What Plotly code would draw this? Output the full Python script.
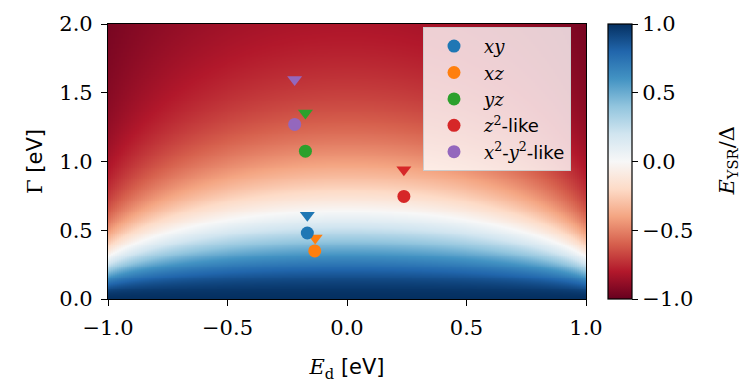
import numpy as np
import plotly.graph_objects as go

# ---- data ----
orbitals = ["xy", "xz", "yz", "z2", "x2y2"]
labels = [
    "<i>xy</i>",
    "<i>xz</i>",
    "<i>yz</i>",
    "<i>z</i><sup>2</sup><span style='font-family:DejaVu Sans'>-like</span>",
    "<i>x</i><sup>2</sup><span style='font-family:DejaVu Sans'>-</span><i>y</i><sup>2</sup><span style='font-family:DejaVu Sans'>-like</span>",
]
colors = ["#1f77b4", "#ff7f0e", "#2ca02c", "#d62728", "#9467bd"]
circle_ed = [-0.166, -0.135, -0.174, 0.238, -0.219]
circle_gamma = [0.48, 0.35, 1.075, 0.746, 1.27]
tri_ed = [-0.166, -0.133, -0.174, 0.238, -0.219]
tri_gamma = [0.61, 0.443, 1.352, 0.94, 1.597]

# background map: zero contour (Gamma0 at E_d=0 and at E_d=+-1)
gamma0_center = 0.64
gamma0_edge = 0.31
ed_grid = np.linspace(-1, 1, 241)
gamma_grid = np.linspace(0, 2, 301)

b2 = 1.0 / (1.0 - (gamma0_edge / gamma0_center) ** 2)
E, G = np.meshgrid(ed_grid, gamma_grid)
gamma0 = gamma0_center * np.sqrt(1 - E ** 2 / b2)
alpha2 = (G / gamma0) ** 2
z = (1 - alpha2) / (1 + alpha2)

rdbu = ['rgb(103,0,31)', 'rgb(178,24,43)', 'rgb(214,96,77)', 'rgb(244,165,130)',
        'rgb(253,219,199)', 'rgb(247,247,247)', 'rgb(209,229,240)', 'rgb(146,197,222)',
        'rgb(67,147,195)', 'rgb(33,102,172)', 'rgb(5,48,97)']
cscale = [[i / 10, c] for i, c in enumerate(rdbu)]

serif = "DejaVu Serif"
sans = "DejaVu Sans"

fig = go.Figure()
fig.add_trace(go.Heatmap(
    x=ed_grid, y=gamma_grid, z=z, zmin=-1, zmax=1, colorscale=cscale,
    showscale=True, hoverinfo="skip",
    colorbar=dict(
        x=1.046, xanchor="left", xpad=0, y=0.5, yanchor="middle", ypad=0,
        len=1, lenmode="fraction", thickness=24, thicknessmode="pixels",
        outlinewidth=1.2, outlinecolor="black",
        ticks="outside", ticklen=6, tickwidth=1.2, tickcolor="black",
        tickvals=[-1, -0.5, 0, 0.5, 1], tickformat=".1f",
        tickfont=dict(family=serif, size=21, color="black"),
    ),
))

for i in range(5):
    fig.add_trace(go.Scatter(
        x=[tri_ed[i]], y=[tri_gamma[i]], mode="markers",
        marker=dict(symbol="triangle-down", size=13, color=colors[i]),
        showlegend=False, hoverinfo="skip"))
for i in range(5):
    fig.add_trace(go.Scatter(
        x=[circle_ed[i]], y=[circle_gamma[i]], mode="markers", name=labels[i],
        marker=dict(symbol="circle", size=13, color=colors[i]),
        showlegend=True))

axis_common = dict(
    showgrid=False, zeroline=False, showline=True, linecolor="black", linewidth=1.2,
    mirror=True, ticks="outside", ticklen=6, tickwidth=1.2, tickcolor="black",
    dtick=0.5, tickformat=".1f", tickfont=dict(family=serif, size=21, color="black"),
    ticklabelstandoff=4,
)
fig.update_layout(
    width=742, height=387,
    margin=dict(l=108, r=156, t=14, b=87),
    paper_bgcolor="white", plot_bgcolor="white",
    xaxis=dict(range=[-1, 1], title=dict(
        text="<i>E</i><sub>d</sub> <span style='font-family:DejaVu Sans'>[eV]</span>",
        font=dict(family=serif, size=21, color="black"), standoff=20), **axis_common),
    yaxis=dict(range=[0, 2], title=dict(
        text="Γ <span style='font-family:DejaVu Sans'>[eV]</span>",
        font=dict(family=serif, size=21, color="black"), standoff=10), **axis_common),
    legend=dict(x=0.659, y=0.9895, xanchor="left", yanchor="top",
                bgcolor="rgba(255,255,255,0.8)", bordercolor="#cccccc", borderwidth=1,
                font=dict(family=serif, size=18, color="black"), tracegroupgap=0,
                itemwidth=50),
    annotations=[dict(
        text="<i>E</i><sub>YSR</sub>/Δ", xref="paper", yref="paper",
        x=1.295, y=0.5, xanchor="center", yanchor="middle", textangle=-90,
        showarrow=False, font=dict(family=serif, size=21, color="black"))],
)

fig.write_html("out.html")
